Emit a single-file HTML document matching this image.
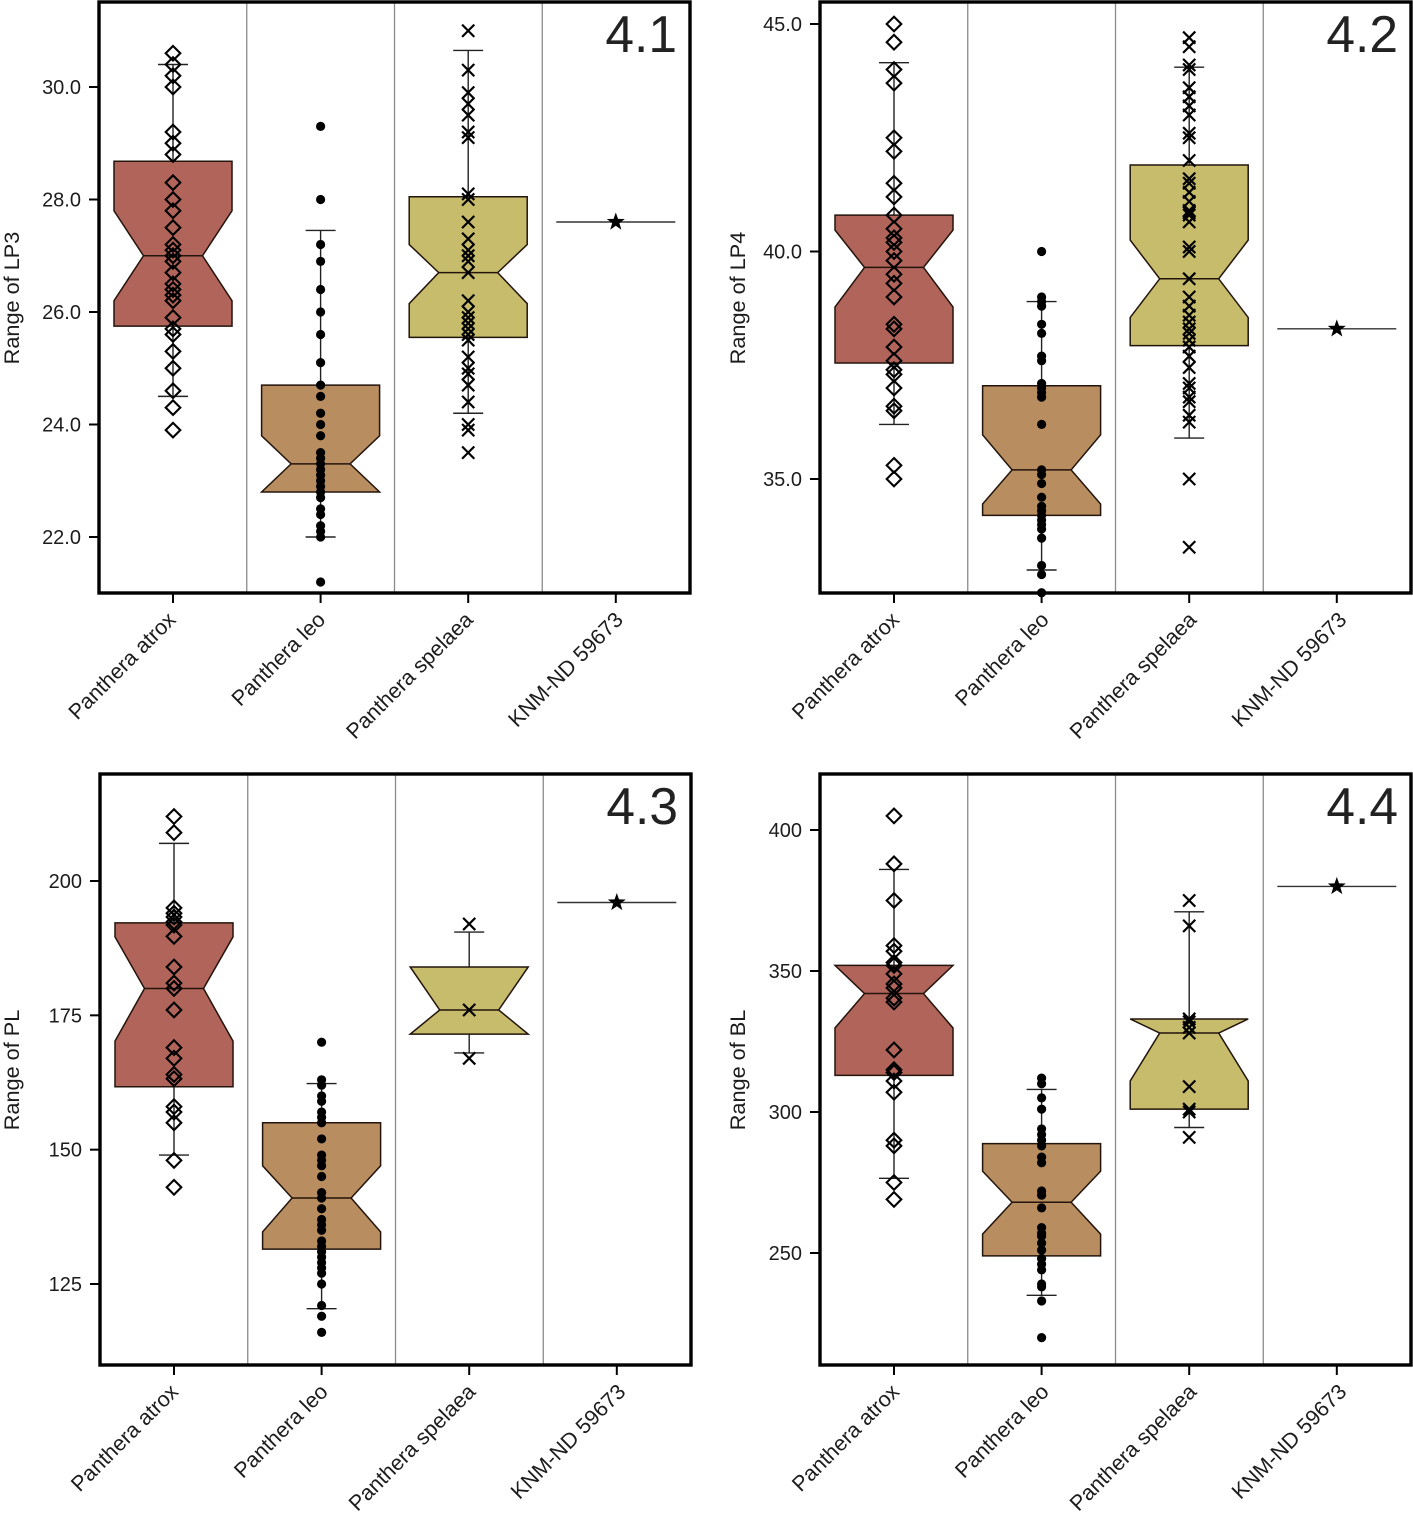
<!DOCTYPE html>
<html lang="en">
<head>
<meta charset="utf-8">
<title>Range of lion measurements by taxon</title>
<style>
html,body{margin:0;padding:0;background:#fff}
svg{display:block}
text{font-family:"Liberation Sans",Arial,sans-serif;fill:#1c1c1c}
</style>
</head>
<body>
<svg id="chart" xmlns="http://www.w3.org/2000/svg" width="1413" height="1514" viewBox="0 0 1413 1514"></svg>
<script>
const categories = ['Panthera atrox', 'Panthera leo', 'Panthera spelaea', 'KNM-ND 59673'];

// Box stats order: low whisker, Q1, notch low, median, notch high, Q3, high whisker
const lp3Ticks = [22, 24, 26, 28, 30];
const lp3TickLabels = ['22.0', '24.0', '26.0', '28.0', '30.0'];
const lp3AtroxBox = [24.5, 25.75, 26.2, 27.0, 27.8, 28.68, 30.4];
const lp3LeoBox = [22.0, 22.8, 22.8, 23.3, 23.8, 24.7, 27.45];
const lp3SpelaeaBox = [24.2, 25.55, 26.15, 26.7, 27.2, 28.05, 30.65];
const lp3AtroxPoints = [30.6, 30.4, 30.2, 30.0, 29.2, 29.0, 28.8, 28.3, 28.0, 27.8, 27.5, 27.2, 27.1, 27.0, 26.9, 26.7, 26.5, 26.4, 26.3, 26.2, 25.9, 25.7, 25.6, 25.3, 25.0, 24.6, 24.3, 23.9];
const lp3LeoPoints = [29.3, 28.0, 27.2, 26.9, 26.4, 26.0, 25.6, 25.1, 24.7, 24.5, 24.2, 24.0, 23.8, 23.5, 23.4, 23.3, 23.2, 23.1, 23.0, 22.9, 22.8, 22.7, 22.5, 22.4, 22.2, 22.1, 22.0, 21.2];
const lp3SpelaeaPoints = [31.0, 30.3, 29.9, 29.7, 29.5, 29.2, 29.1, 28.1, 28.0, 27.6, 27.3, 27.1, 27.0, 26.9, 26.7, 26.2, 26.0, 25.9, 25.8, 25.7, 25.6, 25.5, 25.2, 25.0, 24.9, 24.7, 24.4, 24.0, 23.9, 23.5];
const lp3Specimen = 27.6;

const lp4Ticks = [35, 40, 45];
const lp4TickLabels = ['35.0', '40.0', '45.0'];
const lp4AtroxBox = [36.2, 37.55, 38.78, 39.65, 40.47, 40.8, 44.15];
const lp4LeoBox = [33.0, 34.2, 34.45, 35.2, 35.97, 37.05, 38.9];
const lp4SpelaeaBox = [35.9, 37.93, 38.55, 39.4, 40.25, 41.9, 44.05];
const lp4AtroxPoints = [45.0, 44.6, 44.0, 43.7, 42.5, 42.2, 41.5, 41.2, 40.8, 40.5, 40.3, 40.2, 40.0, 39.8, 39.5, 39.3, 39.0, 38.4, 38.3, 37.9, 37.6, 37.4, 37.3, 37.0, 36.6, 36.5, 35.3, 35.0];
const lp4LeoPoints = [40.0, 39.0, 38.9, 38.8, 38.4, 38.2, 37.7, 37.6, 37.1, 37.0, 36.9, 36.8, 36.2, 35.2, 35.1, 34.9, 34.6, 34.4, 34.3, 34.2, 34.1, 34.0, 33.9, 33.7, 33.1, 32.9, 32.5];
const lp4SpelaeaPoints = [44.7, 44.5, 44.1, 44.0, 43.6, 43.4, 43.2, 43.0, 42.6, 42.5, 42.0, 41.6, 41.5, 41.3, 41.1, 40.9, 40.85, 40.8, 40.65, 40.1, 40.0, 39.4, 39.0, 38.8, 38.6, 38.45, 38.3, 38.2, 38.05, 37.9, 37.7, 37.45, 37.1, 37.0, 36.8, 36.7, 36.4, 36.25, 35.0, 33.5];
const lp4Specimen = 38.3;

const plTicks = [125, 150, 175, 200];
const plTickLabels = ['125', '150', '175', '200'];
const plAtroxBox = [149, 161.7, 170.2, 180, 189.6, 192.2, 207];
const plLeoBox = [120.4, 131.5, 134.7, 141, 147, 155, 162.3];
const plSpelaeaBox = [168, 171.5, 171.5, 176, 184, 184, 190.5];
const plAtroxPoints = [212, 209, 195, 194, 193.3, 192.4, 191.8, 189.7, 184, 181, 180, 176, 169, 167, 164, 163.2, 158, 157, 155, 148, 143];
const plLeoPoints = [170, 163, 162, 160, 159, 157, 156, 155, 152, 149, 148, 147, 145, 142, 141, 139, 137, 136, 135, 133, 132, 131, 130, 129, 128, 127, 125, 121, 119, 116];
const plSpelaeaPoints = [192, 176, 167];
const plSpecimen = 196;

const blTicks = [250, 300, 350, 400];
const blTickLabels = ['250', '300', '350', '400'];
const blAtroxBox = [276.5, 313, 329.8, 342, 352, 352, 386];
const blLeoBox = [235, 249, 256.7, 268, 279, 288.8, 308];
const blSpelaeaBox = [294.5, 301, 311, 328, 333, 333, 371];
const blAtroxPoints = [405, 388, 375, 359, 357, 353, 352, 349, 345.4, 344, 340.4, 339, 322, 315, 314, 311, 307, 290, 288, 275, 269];
const blLeoPoints = [312, 310, 305, 301, 294, 292, 290, 288, 284, 282, 272, 270.5, 266, 259, 257, 256, 253.5, 251, 248, 246, 244, 239, 238, 233, 220];
const blSpelaeaPoints = [375, 366, 333, 332, 330, 328, 309, 301, 300, 291];
const blSpecimen = 380;

const SVG_NS = 'http://www.w3.org/2000/svg';
const root = document.getElementById('chart');

function make(parent, tag, props) {
  const el = document.createElementNS(SVG_NS, tag);
  for (const k in props) el.setAttribute(k, props[k]);
  parent.appendChild(el);
  return el;
}

function linearScale(v1, p1, v2, p2) {
  const m = (p2 - p1) / (v2 - v1);
  return function (v) { return p1 + (v - v1) * m; };
}

function slug(s) { return s.toLowerCase().replace(/[^a-z0-9]+/g, '-'); }

function labelShift(i) {
  if (i === 0) return 6;
  if (i === 3) return 10.5;
  return 8;
}

function drawMarker(g, kind, x, y, category) {
  let el;
  if (kind === 'diamond') {
    const r = 7.3;
    el = make(g, 'polygon', { points: [x, y - r, x + r, y, x, y + r, x - r, y].join(','), fill: 'none', stroke: '#000', 'stroke-width': 2.1 });
  } else if (kind === 'dot') {
    el = make(g, 'circle', { cx: x, cy: y, r: 4.6, fill: '#000' });
  } else {
    const r = 6.1;
    el = make(g, 'path', { d: 'M' + (x - r) + ' ' + (y - r) + 'L' + (x + r) + ' ' + (y + r) + 'M' + (x + r) + ' ' + (y - r) + 'L' + (x - r) + ' ' + (y + r), fill: 'none', stroke: '#000', 'stroke-width': 2.2 });
  }
  
  
}

function drawBox(g, cx, stats, fill, yScale, category) {
  const hw = 59, nw = 29.5, cap = 15;
  const [lowW, q1, nLow, med, nHigh, q3, highW] = stats.map(yScale);

  const whisker = make(g, 'path', {
    d: 'M' + cx + ' ' + highW + 'V' + lowW + 'M' + (cx - cap) + ' ' + highW + 'H' + (cx + cap) + 'M' + (cx - cap) + ' ' + lowW + 'H' + (cx + cap),
    fill: 'none', stroke: '#222', 'stroke-width': 1.4
  });
  
  

  const pts = [
    [cx - hw, q1], [cx + hw, q1], [cx + hw, nLow], [cx + nw, med], [cx + hw, nHigh],
    [cx + hw, q3], [cx - hw, q3], [cx - hw, nHigh], [cx - nw, med], [cx - hw, nLow]
  ];
  const box = make(g, 'polygon', { points: pts.map(function (p) { return p.join(','); }).join(' '), fill: fill, stroke: '#23140c', 'stroke-width': 1.5 });
  
  

  const medianLine = make(g, 'line', { x1: cx - nw, x2: cx + nw, y1: med, y2: med, stroke: '#23140c', 'stroke-width': 1.5 });
  
  
}

function drawPanel(cfg) {
  const g = make(root, 'g', {});
  
  

  const yScale = linearScale(cfg.v1, cfg.p1, cfg.v2, cfg.p2);
  const xScale = function (i) { return cfg.left + 74 + i * 147.6; };
  const bottom = cfg.top + 591;
  const right = cfg.left + 591;

  for (let i = 1; i < categories.length; i++) {
    const sepX = cfg.left + i * 147.75;
    const sep = make(g, 'line', { x1: sepX, x2: sepX, y1: cfg.top, y2: bottom, stroke: '#8a8a8a', 'stroke-width': 1.3 });
    
    
  }

  const series = [
    { box: cfg.atroxBox, points: cfg.atroxPoints, fill: '#b0645a', kind: 'diamond' },
    { box: cfg.leoBox, points: cfg.leoPoints, fill: '#b88d5f', kind: 'dot' },
    { box: cfg.spelaeaBox, points: cfg.spelaeaPoints, fill: '#c6bc6b', kind: 'cross' }
  ];

  series.forEach(function (s, i) {
    const cx = xScale(i);
    drawBox(g, cx, s.box, s.fill, yScale, categories[i]);
    s.points.forEach(function (v) { drawMarker(g, s.kind, cx, yScale(v), categories[i]); });
  });

  const sx = xScale(3);
  const sy = yScale(cfg.specimen);
  const specLine = make(g, 'line', { x1: sx - 59.5, x2: sx + 59.5, y1: sy, y2: sy, stroke: '#333', 'stroke-width': 1.4 });
  
  
  const starPts = [];
  for (let k = 0; k < 10; k++) {
    const r = k % 2 === 0 ? 9.5 : 3.8;
    const a = -Math.PI / 2 + k * Math.PI / 5;
    starPts.push((sx + r * Math.cos(a)).toFixed(2) + ',' + (sy + r * Math.sin(a)).toFixed(2));
  }
  const star = make(g, 'polygon', { points: starPts.join(' '), fill: '#000' });
  
  

  const frame = make(g, 'rect', { x: cfg.left, y: cfg.top, width: 591, height: 591, fill: 'none', stroke: '#000', 'stroke-width': 3.4 });
  
  

  cfg.ticks.forEach(function (v, i) {
    const y = yScale(v);
    const tick = make(g, 'line', { x1: cfg.left - 10, x2: cfg.left, y1: y, y2: y, stroke: '#000', 'stroke-width': 2 });
    
    
    const label = make(g, 'text', { x: cfg.left - 18, y: y + 7, 'text-anchor': 'end', 'font-size': 20 });
    label.textContent = cfg.tickLabels[i];
    
    
  });

  categories.forEach(function (name, i) {
    const x = xScale(i);
    const tick = make(g, 'line', { x1: x, x2: x, y1: bottom, y2: bottom + 10, stroke: '#000', 'stroke-width': 2 });
    
    
    const label = make(g, 'text', { transform: 'translate(' + (x + labelShift(i) + cfg.labelNudge) + ' ' + (bottom + 28) + ') rotate(-45)', 'text-anchor': 'end', 'font-size': 21.5 });
    label.textContent = name;
    
    
  });

  const title = make(g, 'text', { transform: 'translate(' + cfg.titleX + ' ' + (cfg.top + 296) + ') rotate(-90)', 'text-anchor': 'middle', 'font-size': 21.7 });
  title.textContent = cfg.yTitle;
  
  

  const panelLabel = make(g, 'text', { x: right - 13, y: cfg.top + 50, 'text-anchor': 'end', 'font-size': 51.5, style: 'fill:#222' });
  panelLabel.textContent = cfg.label;
  
  
}

drawPanel({ label: '4.1', yTitle: 'Range of LP3', left: 99, top: 2, titleX: 19, labelNudge: -2, v1: 30, p1: 87, v2: 22, p2: 537,
  ticks: lp3Ticks, tickLabels: lp3TickLabels, atroxBox: lp3AtroxBox, leoBox: lp3LeoBox, spelaeaBox: lp3SpelaeaBox,
  atroxPoints: lp3AtroxPoints, leoPoints: lp3LeoPoints, spelaeaPoints: lp3SpelaeaPoints, specimen: lp3Specimen });

drawPanel({ label: '4.2', yTitle: 'Range of LP4', left: 820, top: 2, titleX: 745, labelNudge: 0.5, v1: 45, p1: 24, v2: 35, p2: 479,
  ticks: lp4Ticks, tickLabels: lp4TickLabels, atroxBox: lp4AtroxBox, leoBox: lp4LeoBox, spelaeaBox: lp4SpelaeaBox,
  atroxPoints: lp4AtroxPoints, leoPoints: lp4LeoPoints, spelaeaPoints: lp4SpelaeaPoints, specimen: lp4Specimen });

drawPanel({ label: '4.3', yTitle: 'Range of PL', left: 100, top: 774, titleX: 19, labelNudge: -0.5, v1: 200, p1: 881, v2: 125, p2: 1284,
  ticks: plTicks, tickLabels: plTickLabels, atroxBox: plAtroxBox, leoBox: plLeoBox, spelaeaBox: plSpelaeaBox,
  atroxPoints: plAtroxPoints, leoPoints: plLeoPoints, spelaeaPoints: plSpelaeaPoints, specimen: plSpecimen });

drawPanel({ label: '4.4', yTitle: 'Range of BL', left: 820, top: 774, titleX: 745, labelNudge: 0.5, v1: 400, p1: 830, v2: 250, p2: 1253,
  ticks: blTicks, tickLabels: blTickLabels, atroxBox: blAtroxBox, leoBox: blLeoBox, spelaeaBox: blSpelaeaBox,
  atroxPoints: blAtroxPoints, leoPoints: blLeoPoints, spelaeaPoints: blSpelaeaPoints, specimen: blSpecimen });
</script>
</body>
</html>
